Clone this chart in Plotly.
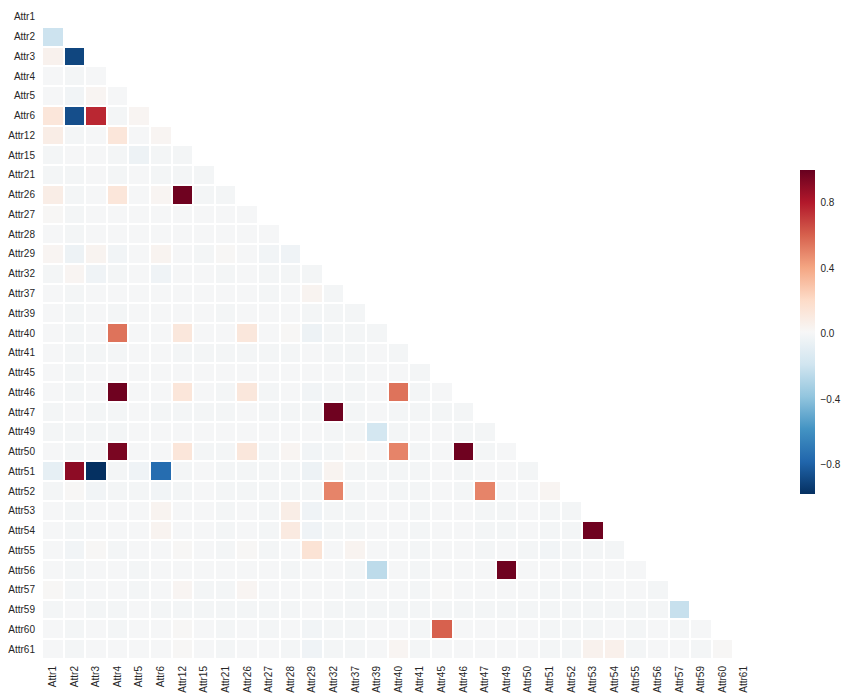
import plotly.graph_objects as go

labels = ["Attr1", "Attr2", "Attr3", "Attr4", "Attr5", "Attr6", "Attr12", "Attr15", "Attr21",
          "Attr26", "Attr27", "Attr28", "Attr29", "Attr32", "Attr37", "Attr39", "Attr40", "Attr41",
          "Attr45", "Attr46", "Attr47", "Attr49", "Attr50", "Attr51", "Attr52", "Attr53", "Attr54",
          "Attr55", "Attr56", "Attr57", "Attr59", "Attr60", "Attr61"]

# lower-triangle correlation values: row i holds correlations with columns 0..i-1
lower_rows = [
    [],
    [-0.2],
    [0.05, -0.9],
    [0.0, -0.01, 0.0],
    [0.0, -0.02, 0.03, 0.0],
    [0.13, -0.87, 0.76, -0.01, 0.03],
    [0.08, -0.01, 0.0, 0.13, 0.0, 0.03],
    [-0.01, 0.0, 0.0, -0.01, -0.04, -0.01, -0.01],
    [-0.01, -0.01, 0.0, -0.01, 0.0, -0.01, -0.01, -0.01],
    [0.08, -0.01, 0.0, 0.13, 0.0, 0.03, 0.98, -0.01, -0.01],
    [0.02, -0.01, 0.0, 0.0, 0.0, 0.0, 0.0, 0.0, 0.0, 0.0],
    [0.0, -0.01, 0.0, 0.0, 0.0, 0.0, 0.0, 0.0, 0.0, 0.0, 0.0],
    [0.03, -0.04, 0.04, -0.02, 0.0, 0.04, 0.0, -0.01, 0.02, 0.0, -0.02, -0.03],
    [-0.01, 0.03, -0.03, -0.01, 0.0, -0.03, 0.0, 0.0, -0.01, 0.0, -0.01, -0.01, -0.01],
    [0.0, -0.01, 0.0, 0.0, 0.0, 0.0, 0.0, 0.0, 0.0, 0.0, -0.01, 0.0, 0.04, -0.01],
    [0.0, -0.01, 0.0, -0.01, 0.0, 0.0, 0.0, 0.0, -0.01, 0.0, 0.0, 0.0, -0.01, -0.01, -0.01],
    [0.0, -0.01, 0.0, 0.55, 0.0, 0.0, 0.12, 0.0, 0.0, 0.12, 0.0, 0.02, -0.04, -0.01, -0.01, -0.01],
    [0.0, -0.01, -0.01, -0.01, 0.0, 0.0, -0.01, -0.01, -0.01, -0.01, -0.01, -0.01, 0.0, -0.01, -0.01, 0.0, -0.01],
    [0.0, -0.01, 0.0, 0.0, 0.0, 0.0, 0.0, 0.0, 0.0, 0.0, 0.0, 0.0, 0.0, 0.0, -0.01, 0.0, 0.0, -0.01],
    [0.0, -0.01, 0.0, 0.98, 0.0, 0.0, 0.13, 0.0, -0.01, 0.12, -0.01, 0.0, -0.02, -0.01, -0.01, 0.0, 0.55, -0.01, 0.0],
    [-0.01, 0.0, -0.01, -0.01, 0.0, -0.01, -0.01, -0.01, -0.01, 0.0, -0.01, -0.01, -0.01, 0.98, -0.01, 0.0, -0.01, -0.01, -0.01, -0.01],
    [-0.01, -0.01, -0.01, -0.01, 0.0, 0.0, 0.0, 0.0, 0.0, 0.0, 0.0, 0.0, 0.0, -0.01, -0.01, -0.17, -0.01, 0.0, 0.0, -0.01, -0.01],
    [0.0, -0.01, 0.0, 0.95, 0.0, 0.0, 0.13, -0.01, -0.01, 0.12, -0.01, 0.03, -0.02, -0.01, 0.02, 0.0, 0.5, -0.01, 0.0, 0.98, -0.01, 0.0],
    [-0.08, 0.9, -0.98, -0.01, -0.03, -0.75, -0.01, 0.0, -0.01, -0.01, -0.01, -0.01, -0.04, 0.04, -0.01, -0.01, -0.01, -0.01, 0.0, -0.01, 0.0, 0.0, -0.01],
    [-0.01, 0.02, -0.02, -0.01, -0.01, -0.02, -0.01, 0.0, -0.01, -0.01, -0.01, -0.01, -0.01, 0.5, -0.01, 0.0, -0.01, -0.01, 0.0, -0.01, 0.5, 0.0, 0.0, 0.03],
    [0.0, -0.01, 0.0, 0.0, 0.0, 0.04, 0.0, 0.0, -0.01, 0.0, -0.01, 0.08, -0.03, -0.01, -0.01, 0.0, 0.0, -0.01, 0.0, 0.0, -0.01, -0.01, 0.0, -0.01, -0.01],
    [0.0, -0.01, 0.0, 0.0, 0.0, 0.04, 0.0, 0.0, -0.01, 0.0, -0.01, 0.1, -0.03, -0.01, -0.01, 0.0, 0.0, -0.01, 0.0, 0.0, -0.01, -0.01, 0.0, -0.01, -0.01, 0.98],
    [0.0, -0.02, 0.02, -0.01, 0.0, 0.0, 0.02, 0.0, -0.01, 0.02, -0.01, 0.0, 0.15, 0.0, 0.04, 0.0, 0.0, -0.01, 0.0, 0.0, -0.01, 0.0, -0.01, -0.02, -0.01, -0.01, -0.01],
    [0.0, -0.01, 0.0, 0.0, -0.01, 0.0, 0.0, 0.0, 0.0, 0.0, 0.0, -0.01, 0.0, 0.0, -0.01, -0.25, 0.0, -0.01, 0.0, 0.0, 0.0, 0.98, 0.0, 0.0, -0.01, 0.0, 0.0, 0.0],
    [0.02, -0.01, 0.0, 0.0, -0.01, 0.0, 0.03, -0.01, -0.01, 0.03, 0.0, 0.0, 0.0, 0.0, -0.01, 0.0, 0.0, -0.01, 0.01, 0.0, 0.0, 0.0, 0.0, -0.01, -0.01, -0.01, 0.0, 0.0, -0.01],
    [-0.01, 0.0, -0.01, -0.01, 0.0, -0.01, -0.01, -0.01, -0.01, -0.01, -0.01, -0.01, 0.0, -0.01, -0.01, -0.01, -0.01, -0.01, -0.01, -0.01, -0.01, -0.01, -0.01, -0.01, -0.01, -0.01, -0.01, -0.01, -0.01, -0.22],
    [0.0, -0.01, 0.0, -0.01, 0.0, 0.0, 0.02, 0.0, -0.01, 0.0, -0.01, 0.0, -0.02, -0.01, -0.01, 0.0, 0.0, -0.01, 0.6, 0.0, 0.0, 0.0, 0.0, -0.01, -0.01, -0.01, 0.0, -0.01, 0.0, -0.01, 0.0],
    [0.0, -0.01, 0.0, 0.0, 0.0, 0.0, 0.02, 0.0, -0.01, 0.0, 0.0, -0.01, -0.03, -0.01, -0.01, 0.0, 0.03, -0.01, 0.0, 0.0, 0.0, 0.0, 0.0, -0.01, -0.01, 0.05, 0.06, -0.01, 0.0, 0.0, -0.01, 0.02],
]

colorbar_ticks = [-0.8, -0.4, 0.0, 0.4, 0.8]

n = len(labels)
for i, r in enumerate(lower_rows):
    assert len(r) == i, (i, len(r))

z = []
for i in range(n):
    row = list(lower_rows[i]) + [None] * (n - i)
    z.append(row)

rdbu_r = ["#053061", "#2166ac", "#4393c3", "#92c5de", "#d1e5f0", "#f7f7f7",
          "#fddbc7", "#f4a582", "#d6604d", "#b2182b", "#67001f"]
colorscale = [[k / 10, c] for k, c in enumerate(rdbu_r)]

zmin = min(v for r in lower_rows for v in r)

fig = go.Figure(go.Heatmap(
    z=z, x=labels, y=labels,
    colorscale=colorscale, zmin=zmin, zmax=1.0,
    xgap=2, ygap=2, hoverongaps=False,
    colorbar=dict(
        x=(800 - 42) / 713, xanchor="left", xref="paper", xpad=0, ypad=0,
        y=0.5015, yanchor="middle", len=0.497, lenmode="fraction",
        thickness=15, outlinewidth=0,
        tickvals=colorbar_ticks, ticktext=["\u22120.8", "\u22120.4", "0.0", "0.4", "0.8"],
        ticks="outside", ticklen=4, tickcolor="rgba(0,0,0,0)",
        tickfont=dict(family="Liberation Sans, Arial", size=10, color="#262626"),
    ),
))

fig.update_layout(
    width=850, height=700,
    margin=dict(l=42, r=95, t=7, b=41),
    paper_bgcolor="white", plot_bgcolor="white",
    font=dict(family="Liberation Sans, Arial", size=10, color="#262626"),
)
fig.update_xaxes(tickangle=-90, showgrid=False, zeroline=False, showline=False,
                 ticks="", ticklabelstandoff=4, type="category")
fig.update_yaxes(autorange="reversed", showgrid=False, zeroline=False, showline=False,
                 ticks="", ticklabelstandoff=6, type="category")

fig.write_html("out.html")
